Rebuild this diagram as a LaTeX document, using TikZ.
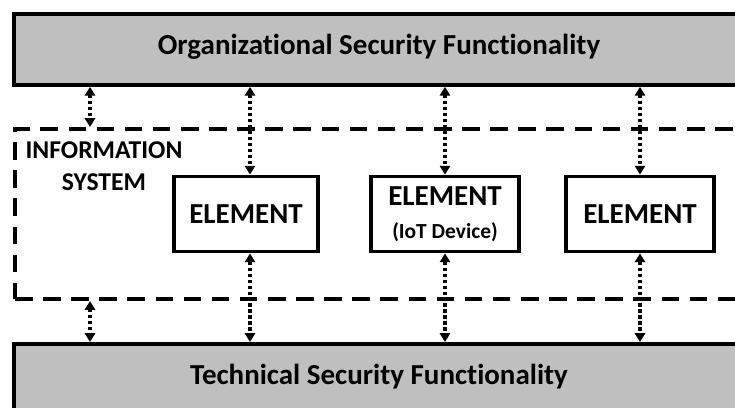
\documentclass[tikz,border=0pt]{standalone}
\usepackage{fontspec}
\setmainfont{Carlito}[Ligatures=NoCommon]
\usetikzlibrary{arrows.meta}
\definecolor{barfill}{HTML}{BFBFBF}

\begin{document}
\begin{tikzpicture}[x=0.02cm,y=-0.02cm,
  bar/.style={draw,line width=2.2pt,fill=barfill,anchor=north west,inner sep=0pt,
    minimum width=15.2cm,minimum height=1.42cm},
  bartext/.style={font=\fontsize{16.5}{18}\selectfont\bfseries},
  sysbox/.style={draw,line width=2.3pt,dash pattern=on 10pt off 6pt,anchor=north west,
    inner sep=0pt,minimum width=15.6cm,minimum height=3.4cm},
  elem/.style={draw,line width=2.2pt,fill=white,align=center,inner sep=0pt,
    minimum width=2.95cm,minimum height=1.5cm,font=\fontsize{16.5}{18}\selectfont\bfseries},
  link/.style={{Triangle[length=5pt,width=5.8pt]}-{Triangle[length=5pt,width=5.8pt]},
    line width=1.8pt,dash pattern=on 1.8pt off 1.6pt}]
\useasboundingbox (0,0) rectangle (735,408);
\clip (0,0) rectangle (735,408);

% bars
\node[bar] (org) at (12,12) {};
\node[bartext] (orgtext) at (379,47) {Organizational Security Functionality};
\node[bar] (tech) at (12,342) {};
\node[bartext] (techtext) at (379,377) {Technical Security Functionality};

% information system
\node[sysbox] (sys) at (13,127) {};
\node[align=center,font=\fontsize{14.6}{18.5}\selectfont\bfseries] (info) at (104,166) {INFORMATION\\SYSTEM};

% elements
\node[elem,minimum width=2.88cm] (e1) at (246,214) {ELEMENT};
\node[elem] (e2) at (445,214) {ELEMENT\\[1pt]{\fontsize{12.2}{14}\selectfont (IoT Device)}};
\node[elem] (e3) at (640,214) {ELEMENT};

% arrow columns
\coordinate (c0) at (90,0);
\coordinate (c1) at (250,0);
\coordinate (c2) at (445,0);
\coordinate (c3) at (640,0);

\draw[link] (org.south -| c0) -- (sys.north -| c0);
\draw[link] (org.south -| c1) -- (e1.north -| c1);
\draw[link] (org.south -| c2) -- (e2.north -| c2);
\draw[link] (org.south -| c3) -- (e3.north -| c3);
\draw[link] (sys.south -| c0) -- (tech.north -| c0);
\draw[link] (e1.south -| c1) -- (tech.north -| c1);
\draw[link] (e2.south -| c2) -- (tech.north -| c2);
\draw[link] (e3.south -| c3) -- (tech.north -| c3);
\end{tikzpicture}
\end{document}
